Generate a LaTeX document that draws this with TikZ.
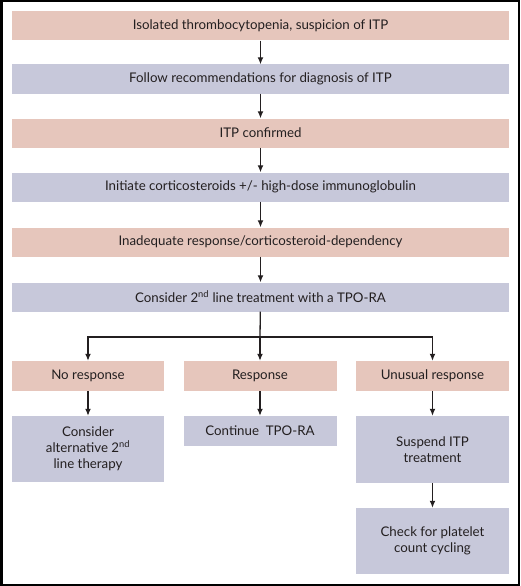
\documentclass[tikz,border=0pt]{standalone}
\usepackage{fontspec}
\setmainfont{Lato}
\usetikzlibrary{arrows.meta,positioning}
\definecolor{pinkfill}{RGB}{230,198,188}
\definecolor{bluefill}{RGB}{199,200,218}
\definecolor{inkgray}{RGB}{35,31,32}

\tikzset{
  pinkbox/.style={fill=pinkfill,draw=none,inner sep=0pt,align=center,text=inkgray,font=\fontsize{13.3}{16}\selectfont},
  bluebox/.style={fill=bluefill,draw=none,inner sep=0pt,align=center,text=inkgray,font=\fontsize{13.3}{16}\selectfont},
  widebox/.style={minimum width=497pt,minimum height=29pt},
  smallbox/.style={minimum width=153pt,minimum height=30pt},
  flowarrow/.style={-{Latex[length=7pt,width=6pt]},line width=1.3pt,inkgray}
}

\begin{document}
\begin{tikzpicture}[x=1pt,y=-1pt]

   \useasboundingbox (0,0) rectangle (520,586);
   \draw [black,line width=2.5pt] (1.25,1.25) rectangle (518.75,584.75);

   % main column
   \node[pinkbox,widebox] (suspect) at (260.5,26) {Isolated thrombocytopenia, suspicion of ITP};
   \node[bluebox,widebox] (diagnose) at (260.5,79) {Follow recommendations for diagnosis of ITP};
   \node[pinkbox,widebox] (confirmed) at (260.5,133) {ITP confirmed};
   \node[bluebox,widebox] (steroids) at (260.5,187) {Initiate corticosteroids +/- high-dose immunoglobulin};
   \node[pinkbox,widebox] (inadequate) at (260.5,242) {Inadequate response/corticosteroid-dependency};
   \node[bluebox,widebox] (tpora) at (260.5,297) {Consider 2\textsuperscript{nd} line treatment with a TPO-RA};

   \draw[flowarrow] (suspect) -- (diagnose);
   \draw[flowarrow] (diagnose) -- (confirmed);
   \draw[flowarrow] (confirmed) -- (steroids);
   \draw[flowarrow] (steroids) -- (inadequate);
   \draw[flowarrow] (inadequate) -- (tpora);

   % three outcomes
   \node[pinkbox,smallbox,minimum width=152pt] (nores) at (88,376) {No response};
   \node[pinkbox,smallbox] (res) at (260,376) {Response};
   \node[pinkbox,smallbox] (unusual) at (432.5,376) {Unusual response};

   \coordinate (split) at (260,337);
   \draw[line width=1.3pt,inkgray] (tpora) -- (split);
   \draw[flowarrow] (split) -| (nores);
   \draw[flowarrow] (split) -- (res);
   \draw[flowarrow] (split) -| (unusual);

   % next steps
   \node[bluebox,smallbox,minimum width=152pt,minimum height=66pt] (alternative) at (88,449) {Consider\\alternative 2\textsuperscript{nd}\\line therapy};
   \node[bluebox,smallbox] (continue) at (260,431) {Continue\ \ TPO-RA};
   \node[bluebox,smallbox,minimum height=67pt] (suspend) at (432.5,449.5) {Suspend ITP\\treatment};
   \node[bluebox,smallbox,minimum height=66pt] (cycling) at (432.5,541) {Check for platelet\\count cycling};

   \draw[flowarrow] (nores) -- (alternative);
   \draw[flowarrow] (res) -- (continue);
   \draw[flowarrow] (unusual) -- (suspend);
   \draw[flowarrow] (suspend) -- (cycling);

\end{tikzpicture}
\end{document}
